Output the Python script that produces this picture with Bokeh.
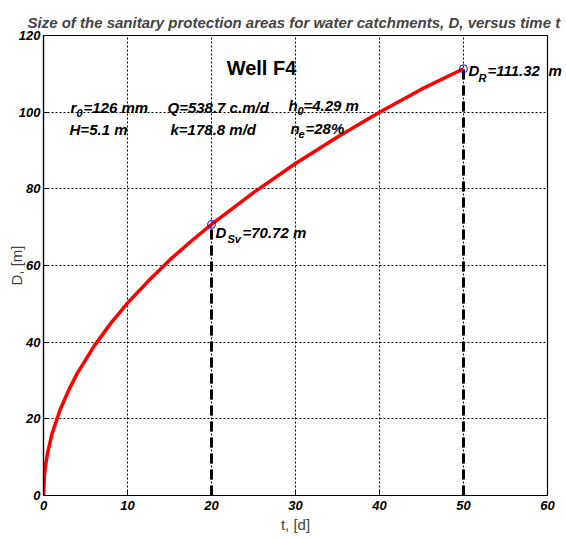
from bokeh.plotting import figure
from bokeh.models import Range1d, FixedTicker, Label
from bokeh.embed import file_html
from bokeh.resources import INLINE

# ---- data ----
t_days = [0, 0.1, 0.25, 0.5, 1, 2, 3, 4, 6, 8, 10, 12.5, 15, 17.5, 20,
          25, 30, 35, 40, 45, 50]
D_m = [0, 5.0, 8.0, 11.2, 16.0, 22.5, 27.5, 31.8, 38.9, 44.9, 50.2, 56.0,
       61.4, 66.2, 70.72, 79.0, 86.6, 93.5, 100.0, 106.0, 111.32]

t_sv, D_sv = 20, 70.72
t_r, D_r = 50, 111.32

x_ticks = [0, 10, 20, 30, 40, 50, 60]
y_ticks = [0, 20, 40, 60, 80, 100, 120]

FONT = "Liberation Sans"

p = figure(width=566, height=538, output_backend="svg", toolbar_location=None,
           x_range=Range1d(0, 60), y_range=Range1d(0, 120),
           min_border_left=43, min_border_right=19, min_border_top=35,
           min_border_bottom=43)

p.title.text = "Size of the sanitary protection areas for water catchments, D, versus time t"
p.title.text_font = FONT
p.title.text_font_style = "bold italic"
p.title.text_font_size = "15px"
p.title.align = "left"
p.title.offset = -16
p.title.standoff = 9

p.background_fill_color = "white"
p.border_fill_color = "white"
p.outline_line_color = "black"
p.outline_line_width = 1.2

for ax in (p.xaxis, p.yaxis):
    ax.major_label_text_font = FONT
    ax.major_label_text_font_style = "bold italic"
    ax.major_label_text_font_size = "13px"
    ax.major_label_text_color = "black"
    ax.axis_label_text_font = FONT
    ax.axis_label_text_font_style = "normal"
    ax.axis_label_text_font_size = "15px"
    ax.axis_line_color = "black"
    ax.axis_line_width = 1.2
    ax.major_tick_in = 5
    ax.major_tick_out = 0
    ax.minor_tick_line_color = None

p.xaxis.ticker = FixedTicker(ticks=x_ticks)
p.yaxis.ticker = FixedTicker(ticks=y_ticks)
p.xaxis.axis_label = "t, [d]"
p.yaxis.axis_label = "D, [m]"
p.xaxis.major_label_standoff = 5
p.yaxis.major_label_standoff = 3
p.xaxis.axis_label_standoff = 3
p.yaxis.axis_label_standoff = -9

p.grid.grid_line_color = "black"
p.grid.grid_line_dash = "2 2"
p.grid.grid_line_width = 1
p.grid.grid_line_alpha = 1.0

# dashed verticals
p.line([t_sv, t_sv], [0, D_sv], line_color="black", line_width=3, line_dash="10 6")
p.line([t_r, t_r], [0, D_r], line_color="black", line_width=3, line_dash="10 6")

# curve
p.line(t_days, D_m, line_color="red", line_width=3.5)

# markers
p.scatter([t_sv, t_r], [D_sv, D_r], marker="circle", size=8, fill_color=None,
          line_color="blue", line_width=1)


def lab(x, y, text, size="15px", style="bold italic", align="left", place="center"):
    lbl = Label(x=x, y=y, text=text, text_font=FONT, text_font_style=style,
                text_font_size=size, text_color="black", text_align=align,
                text_baseline="alphabetic")
    if place == "center":
        p.add_layout(lbl)
    else:
        p.add_layout(lbl, place)


lab(25.95, 111.4, "Well F4", size="20px", style="bold", align="center")

lab(3.21, 101.2, "r")
lab(3.93, 99.9, "0", size="11px")
lab(4.76, 101.2, "=126 mm")
lab(3.10, 95.5, "H=5.1 m")

lab(14.76, 101.2, "Q=538.7 c.m/d")
lab(15.12, 95.5, "k=178.8 m/d")

lab(29.17, 101.7, "h")
lab(30.24, 100.4, "0", size="11px")
lab(30.95, 101.7, "=4.29 m")
lab(29.40, 95.8, "n")
lab(30.36, 94.2, "e", size="11px")
lab(31.19, 95.8, "=28%")

lab(20.48, 68.6, "D")
lab(21.90, 67.0, "Sv", size="11px")
lab(23.69, 68.6, "=70.72 m")

lab(50.60, 110.9, "D")
lab(51.79, 109.0, "R", size="11px")
lab(52.86, 110.9, "=111.32")
lab(60.12, 110.9, "m", place="right")

open("out.html", "w").write(file_html(p, INLINE))
